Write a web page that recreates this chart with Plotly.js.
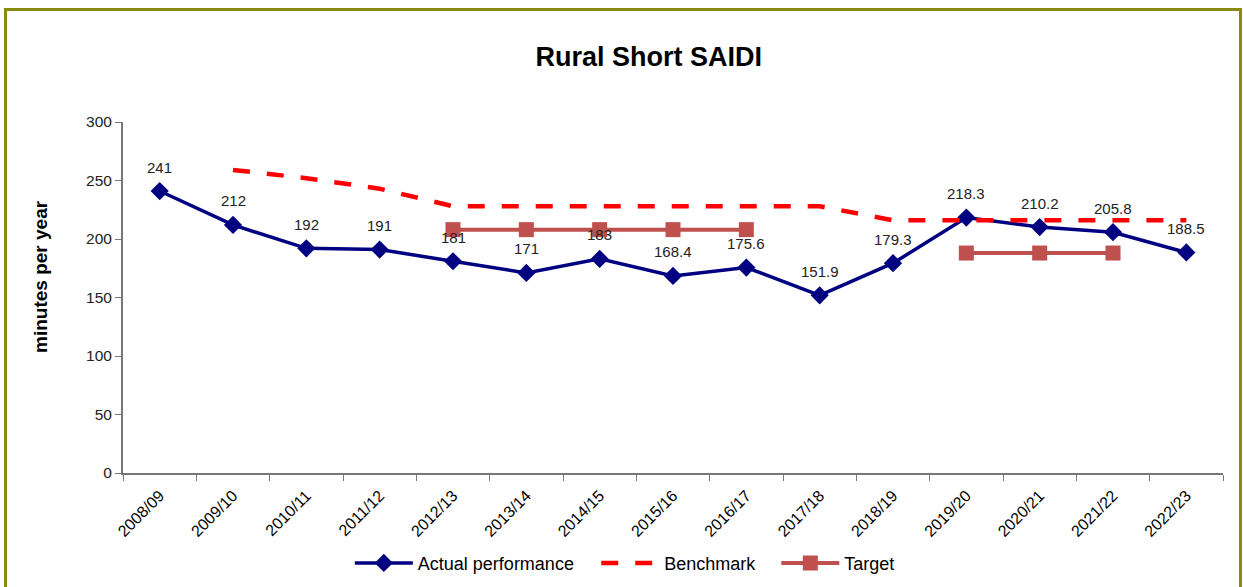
<!DOCTYPE html>
<html>
<head>
<meta charset="utf-8">
<script src="https://cdn.plot.ly/plotly-3.0.1.min.js"></script>
<style>
html,body{margin:0;padding:0;background:#fff;}
#wrap{position:relative;width:1243px;height:587px;overflow:hidden;}
#chart{position:absolute;left:0;top:0;width:1243px;height:587px;}
#frame{position:absolute;left:4px;top:8px;width:1232px;height:600px;border:3px solid #8a8a10;pointer-events:none;}
</style>
</head>
<body>
<div id="wrap"><div id="chart"></div><div id="frame"></div></div>
<script>
const years = ["2008/09","2009/10","2010/11","2011/12","2012/13","2013/14","2014/15","2015/16","2016/17","2017/18","2018/19","2019/20","2020/21","2021/22","2022/23"];
const actual = [241, 212, 192, 191, 181, 171, 183, 168.4, 175.6, 151.9, 179.3, 218.3, 210.2, 205.8, 188.5];
const benchmark = [null, 259, 252, 243, 228, 228, 228, 228, 228, 228, 216, 216, 216, 216, 216];
const target = [null, null, null, null, 208, 208, 208, 208, 208, null, null, 188, 188, 188, null];

const FONT = "Liberation Sans, Arial, sans-serif";

const traces = [
  {x: years, y: actual, name: "Actual performance", type: "scatter", mode: "lines+markers", legend: "legend",
   line: {color: "#000080", width: 3.5}, marker: {symbol: "diamond", size: 14, color: "#000080"}},
  {x: years, y: benchmark, name: "Benchmark", type: "scatter", mode: "lines", legend: "legend2",
   line: {color: "#ff0000", width: 4.5, dash: "17px,17px"}},
  {x: years, y: target, name: "Target", type: "scatter", mode: "lines+markers", legend: "legend3",
   line: {color: "#c0504d", width: 4}, marker: {symbol: "square", size: 15, color: "#c0504d"}}
];

const labelAnnotations = years.map((yr, i) => ({
  x: yr, y: actual[i], xref: "x", yref: "y", text: String(actual[i]),
  showarrow: false, yshift: 24, font: {family: FONT, size: 15, color: "#222"}
}));

const legendBase = {orientation: "h", xanchor: "left", y: -0.257, yanchor: "middle",
                    font: {size: 18, color: "#000"}, itemwidth: 58, bgcolor: "rgba(0,0,0,0)"};

const layout = {
  width: 1243, height: 587,
  margin: {l: 123, r: 20, t: 122, b: 114, autoexpand: false},
  paper_bgcolor: "#fff", plot_bgcolor: "#fff",
  font: {family: FONT, color: "#000"},
  title: {text: "<b>Rural Short SAIDI</b>", font: {size: 27, color: "#000"}, x: 0.522, xanchor: "center", y: 0.903, yanchor: "middle"},
  showlegend: true,
  legend: Object.assign({}, legendBase, {x: 0.2062}),
  legend2: Object.assign({}, legendBase, {x: 0.4302}),
  legend3: Object.assign({}, legendBase, {x: 0.5939}),
  xaxis: {type: "category", range: [-0.5, 14.5], showgrid: false, zeroline: false, automargin: false,
          showline: true, linecolor: "#777", linewidth: 2, ticks: "outside", ticklen: 6, tickcolor: "#777",
          tickson: "boundaries", tickangle: -45, ticklabelstandoff: 5, tickfont: {size: 16, color: "#000"}},
  yaxis: {range: [0, 300], dtick: 50, showgrid: false, zeroline: false, automargin: false,
          showline: true, linecolor: "#777", linewidth: 2, ticks: "outside", ticklen: 6, tickcolor: "#777",
          tickfont: {size: 15.5, color: "#222"}},
  annotations: labelAnnotations.concat([
    {text: "<b>minutes per year</b>", xref: "paper", yref: "paper", x: -0.075, xanchor: "center",
     y: 0.56, yanchor: "middle", textangle: -90, showarrow: false, font: {family: FONT, size: 19, color: "#000"}}
  ])
};

Plotly.newPlot("chart", traces, layout, {displayModeBar: false, staticPlot: true});
</script>
</body>
</html>
